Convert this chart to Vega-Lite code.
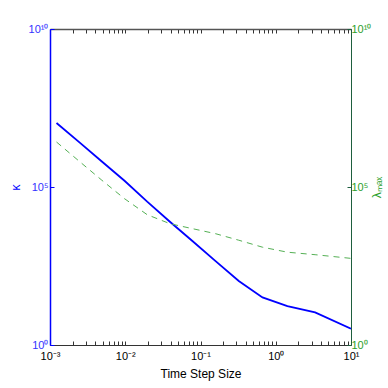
{
  "$schema": "https://vega.github.io/schema/vega-lite/v6.json",
  "width": 301,
  "height": 316,
  "autosize": "none",
  "padding": {"left": 50, "top": 29, "right": 37, "bottom": 43},
  "config": {
    "view": {"stroke": null},
    "font": "Liberation Sans",
    "axis": {"grid": false, "labelFont": "Liberation Sans", "titleFont": "Liberation Sans", "titleFontWeight": "normal", "labelFontSize": 11, "titleFontSize": 12}
  },
  "data": {
    "values": [
      {"h": 0.0012209, "kappa": 10600000, "lambda": 2650000},
      {"h": 0.002442, "kappa": 2620000, "lambda": 655000},
      {"h": 0.004885, "kappa": 641000, "lambda": 164000},
      {"h": 0.009775, "kappa": 158000, "lambda": 42700},
      {"h": 0.01957, "kappa": 34300, "lambda": 13300},
      {"h": 0.03922, "kappa": 7943, "lambda": 6902},
      {"h": 0.07874, "kappa": 1928, "lambda": 4786},
      {"h": 0.1587, "kappa": 449, "lambda": 3327},
      {"h": 0.3226, "kappa": 106, "lambda": 2070},
      {"h": 0.6667, "kappa": 32.1, "lambda": 1245},
      {"h": 1.4286, "kappa": 16.9, "lambda": 865},
      {"h": 3.3333, "kappa": 10.8, "lambda": 721},
      {"h": 10, "kappa": 3.28, "lambda": 551}
    ]
  },
  "layer": [
    {
      "mark": {"type": "line", "color": "#0000ff", "strokeWidth": 1.8, "clip": true},
      "encoding": {
        "x": {
          "field": "h", "type": "quantitative",
          "scale": {"type": "log", "domain": [0.001, 10], "nice": false},
          "axis": {
            "orient": "bottom", "title": "Time Step Size", "titleColor": "#000000", "titlePadding": 7,
            "values": [0.001,0.002,0.003,0.004,0.005,0.006,0.007,0.008,0.009,0.01,0.02,0.03,0.04,0.05,0.06,0.07,0.08,0.09,0.1,0.2,0.3,0.4,0.5,0.6,0.7,0.8,0.9,1,2,3,4,5,6,7,8,9,10],
            "labelExpr": "datum.value == 0.001 ? '10⁻³' : datum.value == 0.01 ? '10⁻²' : datum.value == 0.1 ? '10⁻¹' : datum.value == 1 ? '10⁰' : datum.value == 10 ? '10¹' : ''",
            "tickSize": -4, "tickColor": "#333333", "domainColor": "#333333", "labelColor": "#000000", "labelPadding": 9, "labelFlush": false
          }
        },
        "y": {
          "field": "kappa", "type": "quantitative",
          "scale": {"type": "log", "domain": [1, 10000000000], "nice": false},
          "axis": {
            "orient": "left", "title": "κ", "titleColor": "#0000ff", "labelColor": "#3333ff", "domainColor": "#0000ff", "tickColor": "#0000ff",
            "values": [1, 100000, 10000000000],
            "labelExpr": "datum.value == 1 ? '10⁰' : datum.value == 100000 ? '10⁵' : '10¹⁰'",
            "tickSize": -4, "labelPadding": 6, "titlePadding": 6, "domainWidth": 1.5
          }
        }
      }
    },
    {
      "mark": {"type": "line", "color": "#55b055", "strokeWidth": 1, "strokeDash": [6, 5], "clip": true},
      "encoding": {
        "x": {
          "field": "h", "type": "quantitative",
          "scale": {"type": "log", "domain": [0.001, 10], "nice": false},
          "axis": {
            "orient": "top", "title": null, "labels": false,
            "values": [0.001,0.002,0.003,0.004,0.005,0.006,0.007,0.008,0.009,0.01,0.02,0.03,0.04,0.05,0.06,0.07,0.08,0.09,0.1,0.2,0.3,0.4,0.5,0.6,0.7,0.8,0.9,1,2,3,4,5,6,7,8,9,10],
            "tickSize": -4, "tickColor": "#333333", "domainColor": "#555555", "domainWidth": 1.5
          }
        },
        "y": {
          "field": "lambda", "type": "quantitative",
          "scale": {"type": "log", "domain": [1, 10000000000], "nice": false},
          "axis": {
            "orient": "right", "title": "λₘₐₓ", "titleColor": "#2ca02c", "titleAngle": -90, "labelColor": "#2ca02c", "domainColor": "#1e5e3e", "tickColor": "#1e5e3e",
            "values": [1, 100000, 10000000000],
            "labelExpr": "datum.value == 1 ? '10⁰' : datum.value == 100000 ? '10⁵' : '10¹⁰'",
            "tickSize": -4, "labelPadding": 4, "titlePadding": 13
          }
        }
      }
    }
  ],
  "resolve": {"scale": {"y": "independent"}, "axis": {"x": "independent"}}
}
